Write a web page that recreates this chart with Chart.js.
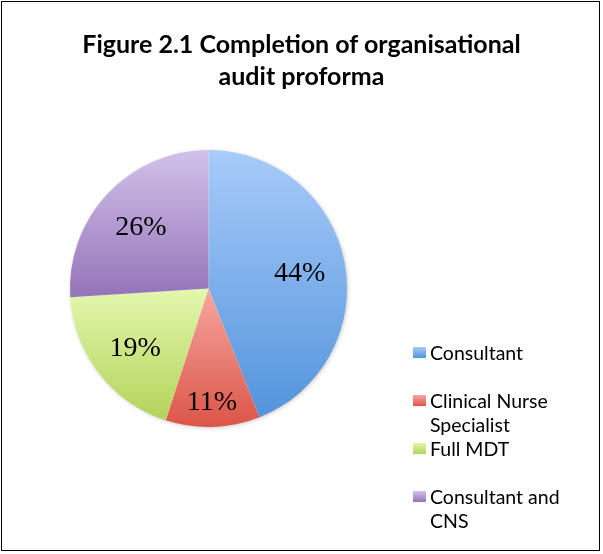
<!DOCTYPE html>
<html>
<head>
<meta charset="utf-8">
<script src="https://cdn.jsdelivr.net/npm/chart.js@4"></script>
<style>
  html, body { margin: 0; padding: 0; background: #fff; }
  #wrap { position: relative; width: 603px; height: 554px; }
  #frame { position: absolute; left: 1px; top: 1px; width: 599px; height: 550px; border: 1px solid #000; box-sizing: border-box; }
  #chartCanvas { position: absolute; left: 0; top: 0; }
  #title { position: absolute; left: 0; top: 27px; width: 603px; text-align: center;
    font: bold 25px Lato, "Open Sans", sans-serif; line-height: 32px; color: #000; }
  #legend { position: absolute; left: 413px; top: 341px; font: 19.5px Lato, "Open Sans", sans-serif; color: #000; }
  .item { position: relative; height: 48px; padding-left: 17px; line-height: 24px; white-space: nowrap; }
  .swatch { position: absolute; left: 0; top: 6px; width: 13px; height: 11px; }
</style>
</head>
<body>
<div id="wrap">
  <canvas id="chartCanvas" width="603" height="554"></canvas>
  <div id="frame"></div>
  <div id="title"></div>
  <div id="legend"></div>
</div>
<script>
const titleLines = ["Figure 2.1 Completion of organisational", "audit proforma"];
const categories = ["Consultant", "Clinical Nurse Specialist", "Full MDT", "Consultant and CNS"];
const legendLines = [["Consultant"], ["Clinical Nurse", "Specialist"], ["Full MDT"], ["Consultant and", "CNS"]];
const percentages = [44, 11, 19, 26];
const topColors = ["#a8cbfa", "#f6a7a1", "#e3f7ae", "#d2c1ea"];
const bottomColors = ["#5394dc", "#dc5548", "#b3d35a", "#9574b9"];

document.getElementById("title").innerHTML = titleLines.join("<br>");
document.getElementById("legend").innerHTML = legendLines.map((lines, i) =>
    `<div class="item"><span class="swatch" style="background:linear-gradient(${topColors[i]},${bottomColors[i]})"></span>${lines.join("<br>")}</div>`
).join("");

const total = percentages.reduce((a, b) => a + b, 0);

function sliceGeometry(chart, index) {
    const a = chart.chartArea;
    const cx = (a.left + a.right) / 2;
    const cy = (a.top + a.bottom) / 2;
    const r = Math.min(a.right - a.left, a.bottom - a.top) / 2;
    let before = 0;
    for (let i = 0; i < index; i++) before += percentages[i];
    const start = -Math.PI / 2 + before / total * Math.PI * 2;
    const end = start + percentages[index] / total * Math.PI * 2;
    return { cx, cy, r, start, end };
}

function sliceFill(ctx) {
    const chart = ctx.chart;
    const i = ctx.dataIndex;
    if (!chart.chartArea || i === undefined) return topColors[i || 0];
    const g = sliceGeometry(chart, i);
    let minY = g.cy, maxY = g.cy;
    for (let k = 0; k <= 60; k++) {
        const ang = g.start + (g.end - g.start) * k / 60;
        const y = g.cy + Math.sin(ang) * g.r;
        minY = Math.min(minY, y);
        maxY = Math.max(maxY, y);
    }
    const grad = chart.ctx.createLinearGradient(0, minY, 0, maxY);
    grad.addColorStop(0, topColors[i]);
    grad.addColorStop(1, bottomColors[i]);
    return grad;
}

const pieShadow = {
    id: "pieShadow",
    beforeDatasetsDraw(chart) {
        const g = sliceGeometry(chart, 0);
        const c = chart.ctx;
        c.save();
        c.shadowColor = "rgba(0,0,0,0.3)";
        c.shadowBlur = 5;
        c.shadowOffsetX = 1;
        c.shadowOffsetY = 1;
        c.fillStyle = "#fff";
        c.beginPath();
        c.arc(g.cx, g.cy, g.r - 1, 0, Math.PI * 2);
        c.fill();
        c.restore();
    }
};

const sliceLabels = {
    id: "sliceLabels",
    afterDatasetsDraw(chart) {
        const c = chart.ctx;
        c.save();
        c.font = "28px 'Liberation Serif', serif";
        c.fillStyle = "#000";
        c.textAlign = "center";
        c.textBaseline = "middle";
        percentages.forEach((p, i) => {
            const g = sliceGeometry(chart, i);
            const mid = (g.start + g.end) / 2;
            const f = p < 15 ? 0.8 : 0.67;
            c.fillText(p + "%", g.cx + Math.cos(mid) * g.r * f, g.cy + Math.sin(mid) * g.r * f + 3);
        });
        c.restore();
    }
};

new Chart(document.getElementById("chartCanvas"), {
    type: "pie",
    data: {
        labels: categories,
        datasets: [{
            data: percentages,
            backgroundColor: sliceFill,
            borderWidth: 0
        }]
    },
    options: {
        responsive: false,
        animation: false,
        layout: { padding: { left: 70, right: 256, top: 150, bottom: 127 } },
        plugins: {
            legend: { display: false },
            title: { display: false },
            tooltip: { enabled: false }
        }
    },
    plugins: [pieShadow, sliceLabels]
});
</script>
</body>
</html>
